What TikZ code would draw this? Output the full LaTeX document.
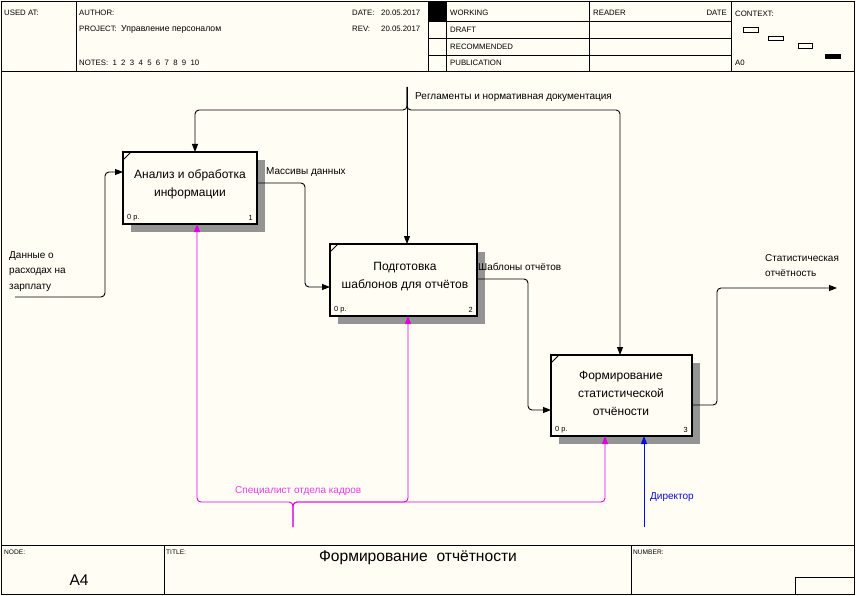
\documentclass[tikz,border=0pt]{standalone}
\usepackage{fontspec}
\setmainfont{Liberation Sans}
\usetikzlibrary{arrows.meta,calc,patterns}
\definecolor{bg}{RGB}{255,253,244}
\definecolor{mag}{RGB}{225,0,225}
\definecolor{magt}{RGB}{235,60,235}
\definecolor{blu}{RGB}{10,10,215}
\begin{document}
\begin{tikzpicture}[x=1pt,y=-1pt,
  hd/.style={font=\fontsize{7.8}{9}\selectfont, anchor=west, inner sep=0},
  ft/.style={font=\fontsize{6.6}{8}\selectfont, anchor=west, inner sep=0},
  lbl/.style={font=\fontsize{10}{15.5}\selectfont, anchor=west, inner sep=0},
  frame/.style={line width=0.9pt},
  fbox/.style={draw, line width=2.2pt, fill=bg, inner sep=0, outer sep=0},
  shadowbox/.style={fill=black!42},
  btext/.style={font=\fontsize{12}{18}\selectfont, align=center, inner sep=0},
  corner/.style={font=\fontsize{7.4}{9}\selectfont, inner sep=0},
  arr/.style={line width=0.9pt, rounded corners=4, -{Triangle[length=8pt,width=6pt]}},
  line/.style={line width=0.9pt, rounded corners=4},
  marr/.style={arr, color=mag},
  barr/.style={arr, color=blu}
]
% background
\fill[bg] (0,0) rectangle (856,596);
\useasboundingbox (0,0) rectangle (856,596);

% ---------- frame ----------
\draw[frame] (1,1) rectangle (854,594);
\draw[frame] (1,71) -- (854,71);
\draw[frame] (76,1) -- (76,71);
\draw[frame] (428,1) -- (428,71);
\draw[frame] (446,1) -- (446,71);
\draw[frame] (589,1) -- (589,71);
\draw[frame] (731,1) -- (731,71);
\draw[frame] (428,21) -- (731,21);
\draw[frame] (428,38) -- (731,38);
\draw[frame] (428,55) -- (731,55);
\fill (428,1) rectangle (446,21);
\draw[frame] (1,545) -- (854,545);
\draw[frame] (164,545) -- (164,594);
\draw[frame] (631,545) -- (631,594);
\draw[frame] (795,577) rectangle (854,594);

% header texts
\node[hd] (usedat) at (4,13) {USED AT:};
\node[hd] (author) at (79,13) {AUTHOR:};
\node[hd] (project) at (79,29) {PROJECT:\ \ {\fontsize{8.7}{9}\selectfont Управление персоналом}};
\node[hd] (notes) at (79,63) {NOTES:\ \ 1\ \ 2\ \ 3\ \ 4\ \ 5\ \ 6\ \ 7\ \ 8\ \ 9\ \ 10};
\node[hd] (date) at (352,13) {DATE:};
\node[hd] (datev) at (381,13) {20.05.2017};
\node[hd] (rev) at (352,29) {REV:};
\node[hd] (revv) at (381,29) {20.05.2017};
\node[hd] (working) at (450,13) {WORKING};
\node[hd] (draft) at (450,30) {DRAFT};
\node[hd] (recom) at (450,47) {RECOMMENDED};
\node[hd] (publ) at (450,63) {PUBLICATION};
\node[hd] (reader) at (593,13) {READER};
\node[hd, anchor=east] (rdate) at (727,13) {DATE};
\node[hd] (context) at (735,14) {CONTEXT:};
\node[hd] (a0) at (735,63) {A0};
\draw[line width=0.8pt] (743,27) rectangle (758,32);
\draw[line width=0.8pt] (768,36) rectangle (783,40);
\draw[line width=0.8pt] (798,43) rectangle (812,48);
\fill (825,54) rectangle (841,59);

% footer texts
\node[ft] (node) at (4,552) {NODE:};
\node[ft] (title) at (166,552) {TITLE:};
\node[ft] (number) at (633,552) {NUMBER:};
\node[font=\fontsize{15.5}{18}\selectfont, inner sep=0] (nodeid) at (79,580) {A4};
\node[font=\fontsize{15.6}{18}\selectfont, inner sep=0] (titletext) at (418,558) {Формирование\ \ отчётности};

% ---------- boxes ----------
\fill[shadowbox] (131,160) rectangle (265,232);
\fill[shadowbox] (338,252) rectangle (485,324);
\fill[shadowbox] (559,363) rectangle (700,444);

\node[fbox, minimum width=134pt, minimum height=72pt] (b1) at (190,188) {};
\node[fbox, minimum width=147pt, minimum height=72pt] (b2) at (403.5,280) {};
\node[fbox, minimum width=141pt, minimum height=81pt] (b3) at (621.5,395.5) {};

\node[btext] (t1) at (190,184) {Анализ и обработка\\информации};
\node[btext] (t2) at (405,277) {Подготовка\\шаблонов для отчётов};
\node[btext] (t3) at (621,393) {Формирование\\статистической\\отчёности};

\foreach \b/\n in {b1/1,b2/2,b3/3}{
  \draw[line width=1pt] ($(\b.north west)+(0,8)$) -- ($(\b.north west)+(8,0)$);
  \node[corner, anchor=west] (\b op) at ($(\b.south west)+(4,-6)$) {0 р.};
  \node[corner, anchor=east] (\b num) at ($(\b.south east)+(-4,-6)$) {\n};
}

% ---------- connectors ----------
% control
\coordinate (ctop) at (407,87);
\coordinate (cj) at (407,110);
\draw[arr] (ctop) -- (ctop |- b2.north);
\draw[arr] (ctop) -- (cj) -| ($(b1.north west)+(72,0)$);
\draw[arr] (ctop) -- (cj) -| ($(b3.north west)+(69,0)$);
\node[lbl] (lreg) at (415,97) {Регламенты и нормативная документация};

% input
\coordinate (in0) at (15,297);
\draw[arr] (in0) -- ++(90,0) |- ($(b1.north west)+(0,20)$);
\node[lbl, anchor=north west, align=left] (lin) at (9,251) {Данные о\\расходах на\\зарплату};

% 1 -> 2
\draw[arr] ($(b1.north east)+(0,31)$) -- ++(48,0) |- ($(b2.north west)+(0,43)$);
\node[lbl] (lmas) at (266,172) {Массивы данных};

% 2 -> 3
\draw[arr] ($(b2.north east)+(0,35)$) -- ++(51,0) |- ($(b3.north west)+(0,55)$);
\node[lbl] (lsh) at (478,267) {Шаблоны отчётов};

% output
\coordinate (out) at (837,288);
\draw[arr] ($(b3.north east)+(0,50)$) -- ++(25,0) |- (out);
\node[lbl, anchor=north west, align=left] (lout) at (765,254) {Статистическая\\отчётность};

% mechanism: specialist
\coordinate (m0) at (293,527);
\coordinate (mj) at (293,502);
\draw[marr] (m0) -- (mj) -| ($(b1.south west)+(74,0)$);
\draw[marr] (m0) -- (mj) -| ($(b2.south west)+(78,0)$);
\draw[marr] (m0) -- (mj) -| ($(b3.south west)+(54,0)$);
\node[lbl, text=magt] (lspec) at (235,491) {Специалист отдела кадров};

% mechanism: director
\coordinate (d0) at (644,527);
\draw[barr] (d0) -- (d0 |- b3.south);
\node[lbl, text=blu] (ldir) at (650,497) {Директор};
\end{tikzpicture}
\end{document}
